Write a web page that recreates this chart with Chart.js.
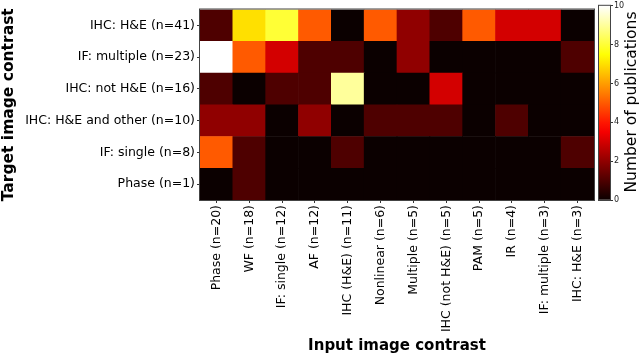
<!DOCTYPE html>
<html>
<head>
  <style>
    body { margin: 0; background: #fff; width: 640px; height: 357px; overflow: hidden; position: relative; }
    #main { position: absolute; left: 0; top: 0; }
    #cbar { position: absolute; left: 590px; top: 0; }
    #cbar_label { position: absolute; left: 532px; top: 92px; width: 200px; height: 20px; line-height: 20px;
      text-align: center; font: 15.5px "DejaVu Sans"; color: #000; transform: rotate(-90deg); white-space: nowrap; }
  </style>
</head>
<body>
  <canvas id="main" width="640" height="357" style="width:640px;height:357px"></canvas>
  <canvas id="cbar" width="50" height="357" style="width:50px;height:357px"></canvas>
  <div id="cbar_label">Number of publications</div>

  <script src="https://cdn.jsdelivr.net/npm/chart.js@4/dist/chart.umd.min.js"></script>
  <script>
    // Input image contrast (columns)
    var inputLabels = ["Phase (n=20)", "WF (n=18)", "IF: single (n=12)", "AF (n=12)", "IHC (H&E) (n=11)",
      "Nonlinear (n=6)", "Multiple (n=5)", "IHC (not H&E) (n=5)", "PAM (n=5)", "IR (n=4)",
      "IF: multiple (n=3)", "IHC: H&E (n=3)"];

    // Target image contrast (rows, top to bottom)
    var targetLabels = ["IHC: H&E (n=41)", "IF: multiple (n=23)", "IHC: not H&E (n=16)",
      "IHC: H&E and other (n=10)", "IF: single (n=8)", "Phase (n=1)"];

    // number of publications per cell, one array per target row
    var ihcHE      = [1, 7, 8, 5, 0, 5, 2, 1, 5, 3, 3, 0];
    var ifMultiple = [10, 5, 3, 1, 1, 0, 2, 0, 0, 0, 0, 1];
    var ihcNotHE   = [1, 0, 1, 1, 9, 0, 0, 3, 0, 0, 0, 0];
    var ihcHEOther = [2, 2, 0, 2, 0, 1, 1, 1, 0, 1, 0, 0];
    var ifSingle   = [5, 1, 0, 0, 1, 0, 0, 0, 0, 0, 0, 1];
    var phase      = [0, 1, 0, 0, 0, 0, 0, 0, 0, 0, 0, 0];
    var rows = [ihcHE, ifMultiple, ihcNotHE, ihcHEOther, ifSingle, phase];

    var cbarTicks = [0, 2, 4, 6, 8, 10];
    var vmax = 10;

    // matplotlib "hot" colormap
    function hot(v) {
      var x = Math.max(0, Math.min(1, v / vmax));
      var a = 0.365079, b = 0.746032;
      var r = x < a ? 0.0416 + (1 - 0.0416) * x / a : 1;
      var g = x < a ? 0 : (x < b ? (x - a) / (b - a) : 1);
      var bl = x < b ? 0 : (x - b) / (1 - b);
      return "rgb(" + Math.round(r * 255) + "," + Math.round(g * 255) + "," + Math.round(bl * 255) + ")";
    }

    var frame = {
      id: "frame",
      afterDraw: function (chart) {
        var a = chart.chartArea, c = chart.ctx;
        c.save();
        c.strokeStyle = "#444";
        c.lineWidth = 1;
        c.strokeRect(a.left - 0.5, a.top - 0.5, a.right - a.left + 1, a.bottom - a.top + 1);
        c.restore();
      }
    };

    // stacked cells, bottom row first
    var datasets = [];
    for (var i = rows.length - 1; i >= 0; i--) {
      datasets.push({
        label: targetLabels[i],
        data: inputLabels.map(function () { return 1; }),
        backgroundColor: rows[i].map(hot),
        borderWidth: 0,
        barPercentage: 1,
        categoryPercentage: 1
      });
    }

    var font = { family: "DejaVu Sans", size: 12.5 };

    new Chart("main", {
      type: "bar",
      data: { labels: inputLabels, datasets: datasets },
      options: {
        responsive: false,
        animation: false,
        layout: { padding: { top: 3, right: 46, left: 0, bottom: 0 } },
        plugins: { legend: { display: false }, tooltip: { enabled: false } },
        scales: {
          x: {
            stacked: true,
            border: { display: false },
            grid: { display: true, drawOnChartArea: false, offset: false, tickLength: 3, color: "#333" },
            ticks: { autoSkip: false, minRotation: 90, maxRotation: 90, padding: 2, color: "#000", font: font },
            title: { display: true, text: "Input image contrast", color: "#000",
              font: { family: "DejaVu Sans", size: 15, weight: "bold" }, padding: { top: 0, bottom: 2 } },
            afterFit: function (s) { s.height = 157; }
          },
          y: {
            stacked: true,
            min: 0,
            max: rows.length,
            border: { display: false },
            grid: { display: true, drawOnChartArea: false, tickLength: 3, color: "#333" },
            afterBuildTicks: function (s) {
              s.ticks = targetLabels.map(function (l, k) { return { value: rows.length - 0.5 - k }; }).reverse();
            },
            ticks: {
              padding: 2, color: "#000", font: font,
              callback: function (value) { return targetLabels[Math.round(rows.length - 0.5 - value)]; }
            },
            title: { display: true, text: "Target image contrast", color: "#000",
              font: { family: "DejaVu Sans", size: 15.5, weight: "bold" }, padding: { top: 0, bottom: 0 } },
            afterFit: function (s) { s.width = 200; }
          }
        }
      },
      plugins: [frame]
    });

    // colorbar
    new Chart("cbar", {
      type: "bar",
      data: {
        labels: [""],
        datasets: [{
          data: [vmax],
          borderWidth: 0,
          barPercentage: 1,
          categoryPercentage: 1,
          backgroundColor: function (ctx) {
            var a = ctx.chart.chartArea;
            if (!a) return "#000";
            var g = ctx.chart.ctx.createLinearGradient(0, a.bottom, 0, a.top);
            for (var k = 0; k <= 20; k++) g.addColorStop(k / 20, hot(vmax * k / 20));
            return g;
          }
        }]
      },
      options: {
        responsive: false,
        animation: false,
        layout: { padding: { top: 3, left: 9, right: 0, bottom: 157 } },
        plugins: { legend: { display: false }, tooltip: { enabled: false } },
        scales: {
          x: { display: false },
          y: {
            position: "right",
            min: 0,
            max: vmax,
            border: { display: false },
            grid: { display: true, drawOnChartArea: false, tickLength: 3, color: "#333" },
            afterBuildTicks: function (s) { s.ticks = cbarTicks.map(function (v) { return { value: v }; }); },
            ticks: { padding: 1, color: "#222", font: { family: "DejaVu Sans", size: 8 } },
            afterFit: function (s) { s.width = 30; }
          }
        }
      },
      plugins: [frame]
    });
  </script>
</body>
</html>
